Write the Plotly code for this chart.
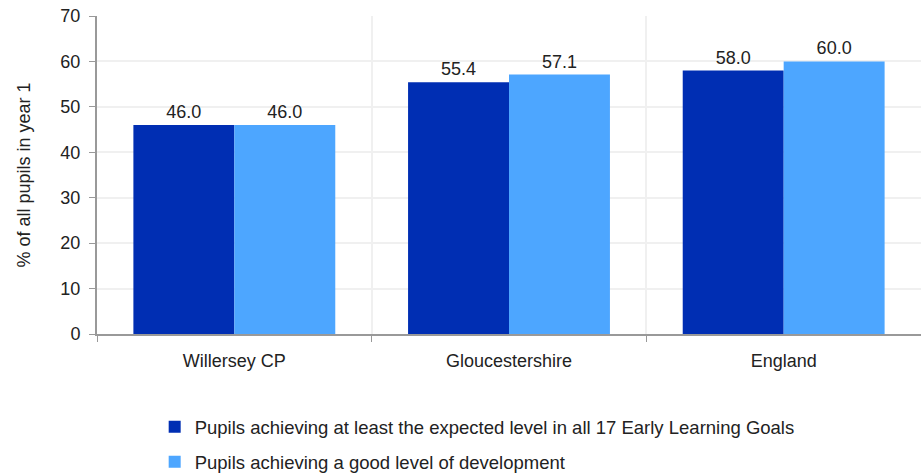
import plotly.graph_objects as go

categories = ["Willersey CP", "Gloucestershire", "England"]
series_names = [
    "Pupils achieving at least the expected level in all 17 Early Learning Goals",
    "Pupils achieving a good level of development",
]
expected_level = [46.0, 55.4, 58.0]
good_level = [46.0, 57.1, 60.0]
colors = ["#002EB3", "#4DA6FF"]
y_ticks = [0, 10, 20, 30, 40, 50, 60, 70]

xpos = list(range(len(categories)))
fig = go.Figure()
for i, (name, vals) in enumerate(zip(series_names, [expected_level, good_level])):
    fig.add_trace(go.Bar(
        x=xpos, y=vals, name=name, marker_color=colors[i], marker_line_width=0,
        text=[f"{v:.1f}" for v in vals], textposition="outside",
        textfont=dict(size=18, color="#222"), cliponaxis=False,
        legendgroup=f"g{i}",
    ))

fig.update_layout(
    width=921, height=474,
    margin=dict(l=97, r=0, t=16, b=140, autoexpand=False),
    paper_bgcolor="white", plot_bgcolor="white",
    font=dict(family="Liberation Sans, Arial, sans-serif", size=18, color="#222"),
    barmode="group", bargap=0.265, bargroupgap=0,
    showlegend=True,
    legend=dict(orientation="v", x=0.070, xanchor="left",
                yref="container", y=0.139, yanchor="top",
                traceorder="grouped", tracegroupgap=8,
                font=dict(size=18.5, color="#222")),
    xaxis=dict(
        range=[-0.5, 2.5], tickvals=xpos, ticktext=categories, ticks="",
        showgrid=False, showline=True, linecolor="#999", linewidth=2,
        tickfont=dict(size=18), ticklabelstandoff=9, automargin=False,
        minor=dict(tick0=-0.5, dtick=1, showgrid=True, gridcolor="#f0f0f0", gridwidth=2,
                   ticks="outside", ticklen=6, tickcolor="#999"),
        zeroline=False,
    ),
    yaxis=dict(
        range=[0, 70], tickvals=y_ticks, ticks="outside", ticklen=6, tickcolor="#999",
        showgrid=True, gridcolor="#f0f0f0", gridwidth=2, automargin=False,
        showline=True, linecolor="#999", linewidth=2, zeroline=False,
        tickfont=dict(size=18), ticklabelstandoff=5,
        title=dict(text="% of all pupils in year 1", font=dict(size=18), standoff=25),
    ),
)

post = (
    "var h=document.documentElement,b=document.body;"
    "h.style.margin='0';h.style.padding='0';h.style.overflow='hidden';"
    "b.style.margin='0';b.style.padding='0';b.style.overflow='hidden';"
)

fig.write_html("out.html", post_script=post, config={"displayModeBar": False})
